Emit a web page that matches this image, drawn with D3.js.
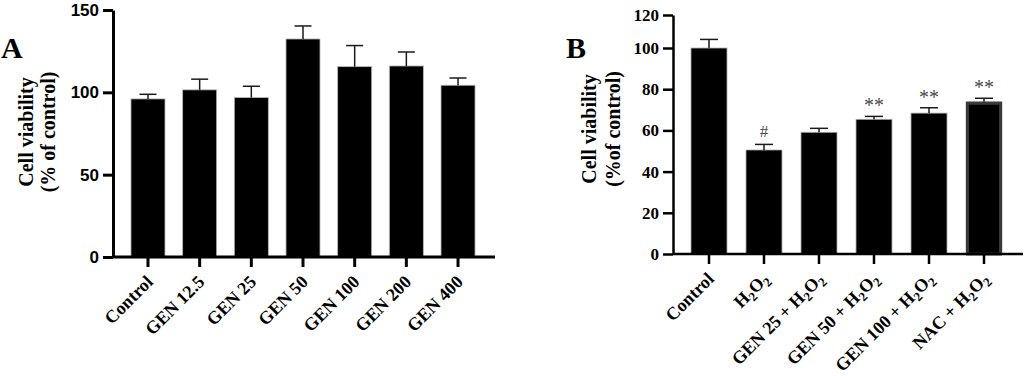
<!DOCTYPE html>
<html><head><meta charset="utf-8">
<script src="https://cdn.jsdelivr.net/npm/d3@7"></script>
<style>
html,body{margin:0;padding:0;background:#fff;}
svg{display:block;}
</style></head>
<body>
<svg id="chart" width="1024" height="376"></svg>
<script>
// ---- Data ----
const catsA = ["Control","GEN 12.5","GEN 25","GEN 50","GEN 100","GEN 200","GEN 400"];
const meanA = [96.0, 101.5, 96.8, 132.4, 115.6, 116.0, 104.3];
const errA  = [2.8, 6.5, 6.9, 7.9, 12.8, 8.5, 4.4];
const ticksA = [0, 50, 100, 150];

const catsB = ["Control","H2O2","GEN 25 + H2O2","GEN 50 + H2O2","GEN 100 + H2O2","NAC + H2O2"];
const meanB = [100, 50.5, 59.1, 65.4, 68.4, 73.9];
const errB  = [5.2, 2.7, 1.9, 1.4, 2.6, 1.7];
const sigB  = ["", "#", "", "**", "**", "**"];
const ticksB = [0, 20, 40, 60, 80, 100, 120];

const SERIF = "'Liberation Serif','Times New Roman',serif";
const SANS = "'Liberation Sans',Arial,sans-serif";

const svg = d3.select("#chart");

function addLabel(sel, label, fs){
  const parts = label.split(/([HO]2)/).filter(s => s.length);
  parts.forEach(p => {
    if (/^[HO]2$/.test(p)) {
      sel.append("tspan").text(p[0]);
      sel.append("tspan").attr("baseline-shift","-28%").attr("font-size", fs*0.72).text("2");
    } else {
      sel.append("tspan").text(p);
    }
  });
}

function panel(opt){
  const g = svg.append("g");
  const x = d3.scaleBand().domain(opt.cats).range(opt.xRange)
    .paddingInner(opt.pi).paddingOuter(opt.po);
  const y = opt.y;

  g.selectAll("rect.bar").data(opt.cats).join("rect")
    .attr("class","bar")
    .attr("x", d => x(d))
    .attr("width", x.bandwidth())
    .attr("y", (d,i) => y(opt.mean[i]))
    .attr("height", (d,i) => y(0) - y(opt.mean[i]))
    .attr("fill", "#000")
    .attr("stroke", "#b5b5b5")
    .attr("stroke-width", 0.8);

  if (opt.special != null) {
    const d = opt.cats[opt.special], i = opt.special;
    g.append("rect")
      .attr("x", x(d) + 1.5).attr("width", x.bandwidth() - 3)
      .attr("y", y(opt.mean[i]) + 1.5).attr("height", y(0) - y(opt.mean[i]) - 1.5)
      .attr("fill", "#000").attr("stroke", "#3a3a3a").attr("stroke-width", 3);
  }

  const cap = x.bandwidth() * 0.25;
  opt.cats.forEach((d,i) => {
    const cx = x(d) + x.bandwidth()/2;
    const yt = y(opt.mean[i] + opt.err[i]);
    g.append("line").attr("x1",cx).attr("x2",cx)
      .attr("y1", y(opt.mean[i])).attr("y2", yt)
      .attr("stroke","#1a1a1a").attr("stroke-width",1.5);
    g.append("line").attr("x1",cx-cap).attr("x2",cx+cap)
      .attr("y1", yt).attr("y2", yt)
      .attr("stroke","#1a1a1a").attr("stroke-width",1.5);
    if (opt.sig && opt.sig[i]) {
      g.append("text").attr("x", cx).attr("y", yt - (opt.sig[i] === "#" ? 7 : 4))
        .attr("text-anchor","middle")
        .attr("font-family", SERIF)
        .attr("font-size", opt.sig[i] === "#" ? 17 : 20)
        .attr("fill","#4a4a4a")
        .text(opt.sig[i]);
    }
  });

  const ya = g.append("g").attr("transform", `translate(${opt.xRange[0]},0)`)
    .call(d3.axisLeft(y).tickValues(opt.ticks).tickSize(10).tickSizeOuter(0).tickPadding(4));
  ya.select(".domain").attr("stroke","#000").attr("stroke-width", opt.axW);
  ya.selectAll(".tick line").attr("stroke","#000").attr("stroke-width", opt.axW);
  ya.selectAll(".tick text").attr("font-family", opt.tickFont).attr("font-weight","bold")
    .attr("font-size", opt.tickFs).attr("fill","#000");

  const xa = g.append("g").attr("transform", `translate(0,${y(0)})`)
    .call(d3.axisBottom(x).tickSize(10).tickSizeOuter(0).tickFormat(""));
  xa.select(".domain").attr("stroke","#000").attr("stroke-width", opt.axW)
    .attr("d", `M${opt.xRange[0]},0H${opt.xAxisEnd}`);
  xa.selectAll(".tick line").attr("stroke","#000").attr("stroke-width", opt.axW);

  opt.cats.forEach(d => {
    const cx = x(d) + x.bandwidth()/2;
    const t = g.append("text")
      .attr("transform", `translate(${cx + opt.lblDx},${opt.lblY}) rotate(-45)`)
      .attr("text-anchor","end")
      .attr("font-family", SERIF).attr("font-weight","bold")
      .attr("font-size", opt.lblFs).attr("fill","#000");
    addLabel(t, d, opt.lblFs);
  });

  opt.ytitle.forEach((s,k) => {
    g.append("text")
      .attr("transform", `translate(${opt.ytitleX[k]},${opt.ytitleY}) rotate(-90)`)
      .attr("text-anchor","middle")
      .attr("font-family", SERIF).attr("font-weight","bold")
      .attr("font-size", opt.ytitleFs).attr("fill","#000")
      .text(s);
  });

  g.append("text").attr("x", opt.letterX).attr("y", 58)
    .attr("font-family", SERIF).attr("font-weight","bold")
    .attr("font-size", 30).attr("fill","#000").text(opt.letter);
}

panel({
  cats: catsA, mean: meanA, err: errA, ticks: ticksA,
  y: d3.scaleLinear().domain([0,150]).range([257,10]),
  xRange: [113, 493], xAxisEnd: 495, pi: 0.342, po: 0.348,
  axW: 3, tickFont: SANS, tickFs: 17,
  lblDx: 6, lblY: 283, lblFs: 18,
  ytitle: ["Cell viability", "(% of control)"], ytitleX: [33, 55], ytitleY: 132, ytitleFs: 20,
  letter: "A", letterX: 1
});

panel({
  cats: catsB, mean: meanB, err: errB, ticks: ticksB, sig: sigB, special: 5,
  y: d3.scaleLinear().domain([0,100,120]).range([254,48,15]),
  xRange: [673, 1020], xAxisEnd: 1023, pi: 0.345, po: 0.327,
  axW: 2.5, tickFont: SERIF, tickFs: 17,
  lblDx: 6, lblY: 280, lblFs: 18,
  ytitle: ["Cell viability", "(%of control)"], ytitleX: [596, 620], ytitleY: 129, ytitleFs: 20,
  letter: "B", letterX: 566
});
</script>
</body></html>
